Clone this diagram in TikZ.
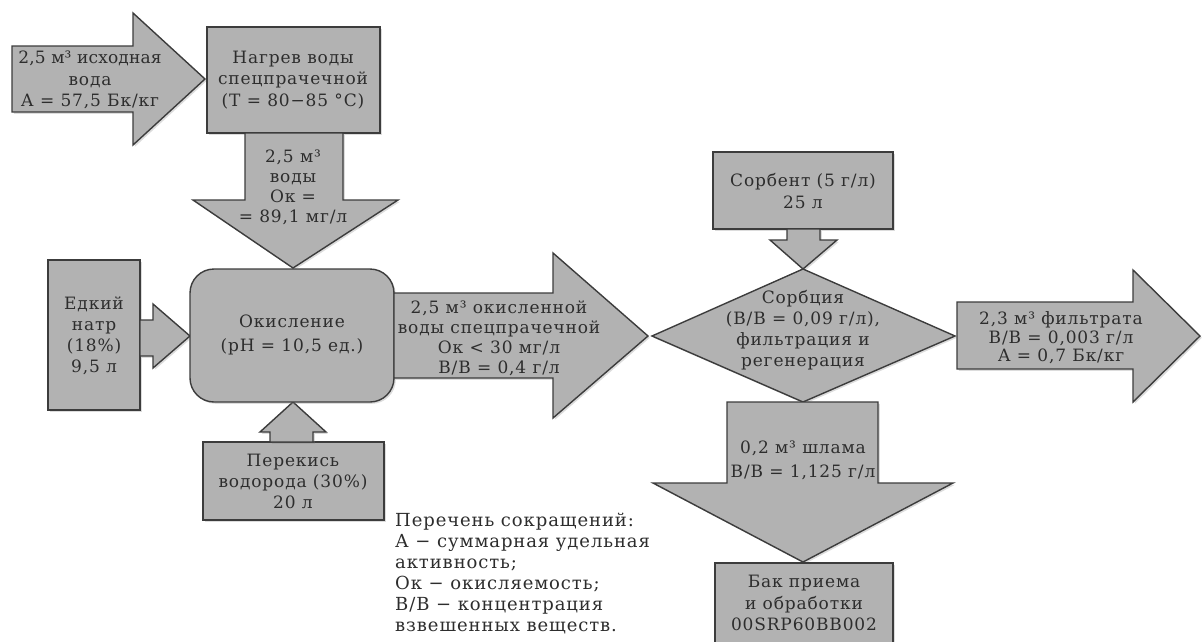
\documentclass[tikz,border=0pt]{standalone}
\usepackage{fontspec}
\setmainfont{DejaVu Serif}[LetterSpace=5]
\usetikzlibrary{shadows}
\definecolor{boxfill}{RGB}{178,178,178}
\definecolor{edge}{RGB}{60,60,60}
\definecolor{ink}{RGB}{45,45,45}
\tikzset{
  shp/.style={draw=edge, fill=boxfill, line width=1.4pt, line join=miter,
    drop shadow={opacity=0.28, shadow xshift=1.8pt, shadow yshift=-1.8pt}},
  txt/.style={align=center, text=ink, inner sep=0pt},
  fa/.style={font=\fontsize{17}{#1}\selectfont},
}
\begin{document}
\begin{tikzpicture}[x=1pt,y=-1pt]
\useasboundingbox (0,0) rectangle (1202,641);
% input arrow
\path[shp] (12,46) -- (133,46) -- (133,13) -- (205,79) -- (133,145) -- (133,112) -- (12,112) -- cycle;
% heating box
\path[shp] (207,27) rectangle (380,133);
% down arrow from heating
\path[shp] (245,133) -- (343,133) -- (343,200) -- (398,200) -- (293,268) -- (193,200) -- (245,200) -- cycle;
% caustic soda box + arrow
\path[shp] (48,260) rectangle (140,410);
\path[shp] (140,320) -- (153,320) -- (153,304) -- (190,336) -- (153,368) -- (153,356) -- (140,356) -- cycle;
% peroxide box + arrow
\path[shp] (203,442) rectangle (384,520);
\path[shp] (270,442) -- (270,432) -- (260,432) -- (293,402) -- (326,432) -- (313,432) -- (313,442) -- cycle;
% oxidation
\path[shp, rounded corners=24pt] (190,269) rectangle (394,402);
% output arrow 1
\path[shp] (394,293) -- (553,293) -- (553,253) -- (648,336) -- (553,418) -- (553,378) -- (394,378) -- cycle;
% sorbent box + arrow
\path[shp] (713,152) rectangle (893,229);
\path[shp] (787,229) -- (787,240) -- (770,240) -- (803,269) -- (837,240) -- (820,240) -- (820,229) -- cycle;
% diamond
\path[shp] (652,336) -- (803,269) -- (955,336) -- (803,402) -- cycle;
% filtrate arrow
\path[shp] (957,302) -- (1133,302) -- (1133,270) -- (1200,336) -- (1133,402) -- (1133,369) -- (957,369) -- cycle;
% sludge arrow
\path[shp] (727,402) -- (878,402) -- (878,483) -- (953,483) -- (803,562) -- (653,483) -- (727,483) -- cycle;
% tank box
\path[shp] (715,563) rectangle (893,660);

% texts
\node[txt, fa=21.5] (in) at (90,80) {\addfontfeature{LetterSpace=1}2,5 м³ исходная\\вода\\А = 57,5 Бк/кг};
\node[txt, fa=21.5] (heat) at (293,80) {Нагрев воды\\спецпрачечной\\(Т = 80−85 °С)};
\node[txt, fa=20] (water) at (293,187) {2,5 м³\\воды\\Ок =\\= 89,1 мг/л};
\node[txt, fa=21] (naoh) at (94,336) {Едкий\\натр\\(18\%)\\9,5 л};
\node[txt, fa=24] (ox) at (292,335) {Окисление\\(рН = 10,5 ед.)};
\node[txt, fa=21] (h2o2) at (293,481) {Перекись\\водорода (30\%)\\20 л};
\node[txt, fa=20] (oxw) at (499,338) {2,5 м³ окисленной\\воды спецпрачечной\\Ок < 30 мг/л\\В/В = 0,4 г/л};
\node[txt, fa=22] (sorbent) at (803,191) {Сорбент (5 г/л)\\25 л};
\node[txt, fa=21] (sorb) at (803,330) {Сорбция\\(В/В = 0,09 г/л),\\фильтрация и\\регенерация};
\node[txt, fa=18.5] (filt) at (1061,338) {2,3 м³ фильтрата\\В/В = 0,003 г/л\\А = 0,7 Бк/кг};
\node[txt, fa=24] (sludge) at (803,460) {0,2 м³ шлама\\В/В = 1,125 г/л};
\node[txt, fa=21.5] (tank) at (804,603) {Бак приема\\и обработки\\00SRP60BB002};
\node[txt, font=\fontsize{18}{21}\selectfont, align=left, anchor=north west] (legend) at (395,513) {Перечень сокращений:\\А − суммарная удельная\\активность;\\Ок − окисляемость;\\В/В − концентрация\\взвешенных веществ.};
\end{tikzpicture}
\end{document}
